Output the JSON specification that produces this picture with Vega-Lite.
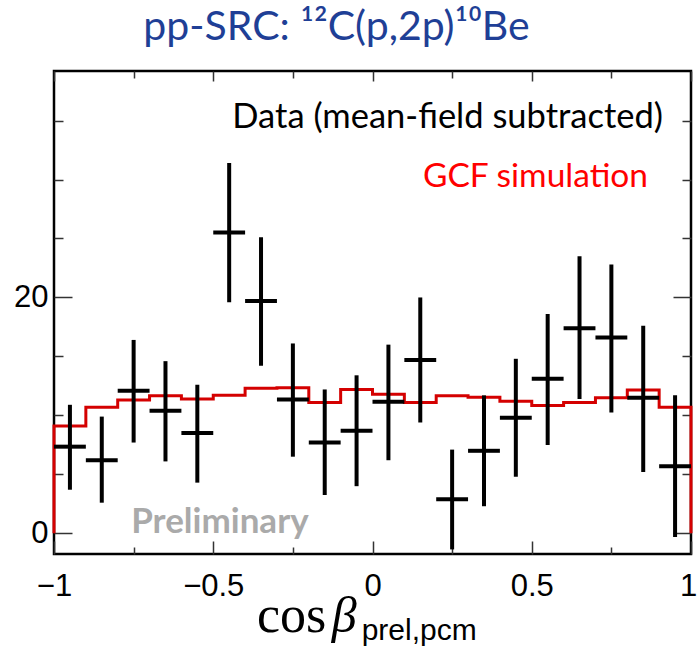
{
  "$schema": "https://vega.github.io/schema/vega-lite/v6.json",
  "width": 637,
  "height": 483,
  "autosize": {"type": "none"},
  "padding": {"left": 54, "top": 71, "right": 6, "bottom": 98},
  "background": "white",
  "config": {
    "view": {"stroke": "black", "strokeWidth": 2.5},
    "axis": {"grid": false, "domain": false, "title": null, "labelFlush": false, "labelOverlap": false, "tickColor": "#333333", "tickWidth": 1.5, "labelFont": "Liberation Sans", "labelFontSize": 31, "labelColor": "black"}
  },
  "title": {
    "text": "pp-SRC: ¹²C(p,2p)¹⁰Be",
    "font": "Lato",
    "fontSize": 41,
    "fontWeight": "normal",
    "color": "#1f3f96",
    "anchor": "middle",
    "dx": -36,
    "offset": -11,
    "baseline": "alphabetic"
  },
  "datasets": {
    "data": [
      {"center": -0.95, "lo_edge": -1.0, "hi_edge": -0.9, "count": 7.35, "low": 3.7, "high": 10.9},
      {"center": -0.85, "lo_edge": -0.9, "hi_edge": -0.8, "count": 6.2, "low": 2.6, "high": 9.9},
      {"center": -0.75, "lo_edge": -0.8, "hi_edge": -0.7, "count": 12.1, "low": 7.7, "high": 16.4},
      {"center": -0.65, "lo_edge": -0.7, "hi_edge": -0.6, "count": 10.4, "low": 6.1, "high": 14.6},
      {"center": -0.55, "lo_edge": -0.6, "hi_edge": -0.5, "count": 8.5, "low": 4.3, "high": 12.6},
      {"center": -0.45, "lo_edge": -0.5, "hi_edge": -0.4, "count": 25.5, "low": 19.6, "high": 31.4},
      {"center": -0.35, "lo_edge": -0.4, "hi_edge": -0.3, "count": 19.7, "low": 14.2, "high": 25.1},
      {"center": -0.25, "lo_edge": -0.3, "hi_edge": -0.2, "count": 11.35, "low": 6.5, "high": 16.1},
      {"center": -0.15, "lo_edge": -0.2, "hi_edge": -0.1, "count": 7.7, "low": 3.25, "high": 12.2},
      {"center": -0.05, "lo_edge": -0.1, "hi_edge": 0.0, "count": 8.7, "low": 4.0, "high": 13.4},
      {"center": 0.05, "lo_edge": 0.0, "hi_edge": 0.1, "count": 11.15, "low": 6.2, "high": 16.0},
      {"center": 0.15, "lo_edge": 0.1, "hi_edge": 0.2, "count": 14.7, "low": 9.4, "high": 20.0},
      {"center": 0.25, "lo_edge": 0.2, "hi_edge": 0.3, "count": 2.9, "low": -1.36, "high": 7.1},
      {"center": 0.35, "lo_edge": 0.3, "hi_edge": 0.4, "count": 7.0, "low": 2.3, "high": 11.7},
      {"center": 0.45, "lo_edge": 0.4, "hi_edge": 0.5, "count": 9.8, "low": 4.8, "high": 14.8},
      {"center": 0.55, "lo_edge": 0.5, "hi_edge": 0.6, "count": 13.1, "low": 7.5, "high": 18.6},
      {"center": 0.65, "lo_edge": 0.6, "hi_edge": 0.7, "count": 17.4, "low": 11.4, "high": 23.5},
      {"center": 0.75, "lo_edge": 0.7, "hi_edge": 0.8, "count": 16.6, "low": 10.25, "high": 22.8},
      {"center": 0.85, "lo_edge": 0.8, "hi_edge": 0.9, "count": 11.5, "low": 5.2, "high": 17.6},
      {"center": 0.95, "lo_edge": 0.9, "hi_edge": 1.0, "count": 5.7, "low": -0.3, "high": 11.7}
    ],
    "gcf": [
      {"i": 0, "edge": -1.0, "value": 0},
      {"i": 1, "edge": -1.0, "value": 9.1},
      {"i": 2, "edge": -0.9, "value": 10.7},
      {"i": 3, "edge": -0.8, "value": 11.3},
      {"i": 4, "edge": -0.7, "value": 11.66},
      {"i": 5, "edge": -0.6, "value": 11.4},
      {"i": 6, "edge": -0.5, "value": 11.7},
      {"i": 7, "edge": -0.4, "value": 12.3},
      {"i": 8, "edge": -0.3, "value": 12.35},
      {"i": 9, "edge": -0.2, "value": 11.1},
      {"i": 10, "edge": -0.1, "value": 12.2},
      {"i": 11, "edge": 0.0, "value": 11.8},
      {"i": 12, "edge": 0.1, "value": 11.1},
      {"i": 13, "edge": 0.2, "value": 11.66},
      {"i": 14, "edge": 0.3, "value": 11.55},
      {"i": 15, "edge": 0.4, "value": 11.2},
      {"i": 16, "edge": 0.5, "value": 10.85},
      {"i": 17, "edge": 0.6, "value": 11.1},
      {"i": 18, "edge": 0.7, "value": 11.5},
      {"i": 19, "edge": 0.8, "value": 12.15},
      {"i": 20, "edge": 0.9, "value": 10.7},
      {"i": 21, "edge": 1.0, "value": 10.7},
      {"i": 22, "edge": 1.0, "value": 0}
    ]
  },
  "resolve": {"axis": {"x": "independent", "y": "independent"}},
  "layer": [
    {
      "data": {"name": "gcf"},
      "mark": {"type": "line", "interpolate": "step-after", "color": "#d40000", "strokeWidth": 3},
      "encoding": {
        "x": {"field": "edge", "type": "quantitative", "scale": {"domain": [-1, 1], "nice": false, "zero": false},
          "axis": {"orient": "bottom", "values": [-1, -0.75, -0.5, -0.25, 0, 0.25, 0.5, 0.75, 1], "format": "~g",
            "labelExpr": "abs(datum.value*2 - round(datum.value*2)) < 0.000001 ? replace(datum.label, '-', '−') : ''",
            "tickSize": {"condition": {"test": "abs(datum.value*2 - round(datum.value*2)) < 0.000001", "value": -13}, "value": -7},
            "labelOffset": {"condition": {"test": "datum.value > 0.99", "value": -3}, "value": 0},
            "labelPadding": 30, "labelBaseline": "top"}},
        "y": {"field": "value", "type": "quantitative", "scale": {"domain": [-1.75, 39.2], "nice": false, "zero": false},
          "axis": {"orient": "left", "values": [0, 5, 10, 15, 20, 25, 30, 35], "format": "~g",
            "labelExpr": "datum.value % 20 === 0 ? datum.label : ''",
            "tickSize": {"condition": {"test": "datum.value % 20 === 0", "value": -18}, "value": -9},
            "labelPadding": 24}},
        "order": {"field": "i", "type": "quantitative"}
      }
    },
    {
      "data": {"name": "data"},
      "mark": {"type": "rule", "color": "black", "strokeWidth": 4},
      "encoding": {
        "x": {"field": "center", "type": "quantitative", "scale": {"domain": [-1, 1], "nice": false, "zero": false},
          "axis": {"orient": "top", "values": [-1, -0.75, -0.5, -0.25, 0, 0.25, 0.5, 0.75, 1], "labels": false,
            "tickSize": {"condition": {"test": "abs(datum.value*2 - round(datum.value*2)) < 0.000001", "value": -10}, "value": -7}}},
        "y": {"field": "low", "type": "quantitative", "scale": {"domain": [-1.75, 39.2], "nice": false, "zero": false},
          "axis": {"orient": "right", "values": [0, 5, 10, 15, 20, 25, 30, 35], "labels": false,
            "tickSize": {"condition": {"test": "datum.value % 20 === 0", "value": -18}, "value": -9}}},
        "y2": {"field": "high"}
      }
    },
    {
      "data": {"name": "data"},
      "mark": {"type": "rule", "color": "black", "strokeWidth": 4},
      "encoding": {
        "x": {"field": "lo_edge", "type": "quantitative", "axis": null},
        "x2": {"field": "hi_edge"},
        "y": {"field": "count", "type": "quantitative", "axis": null}
      }
    },
    {
      "data": {"values": [{}]},
      "mark": {"type": "text", "font": "Lato", "fontSize": 34.5, "align": "right", "baseline": "alphabetic", "color": "black"},
      "encoding": {
        "x": {"datum": 0.912, "type": "quantitative", "axis": null},
        "y": {"datum": 34.4, "type": "quantitative", "axis": null},
        "text": {"value": "Data (mean-field subtracted)"}
      }
    },
    {
      "data": {"values": [{}]},
      "mark": {"type": "text", "font": "Lato", "fontSize": 33.5, "align": "right", "baseline": "alphabetic", "color": "#ff0000"},
      "encoding": {
        "x": {"datum": 0.865, "type": "quantitative", "axis": null},
        "y": {"datum": 29.4, "type": "quantitative", "axis": null},
        "text": {"value": "GCF simulation"}
      }
    },
    {
      "data": {"values": [{}]},
      "mark": {"type": "text", "font": "Lato", "fontSize": 35, "fontWeight": "bold", "align": "center", "baseline": "alphabetic", "color": "#aaaaaa"},
      "encoding": {
        "x": {"datum": -0.479, "type": "quantitative", "axis": null},
        "y": {"datum": 0, "type": "quantitative", "axis": null},
        "text": {"value": "Preliminary"}
      }
    },
    {
      "data": {"values": [{}]},
      "mark": {"type": "text", "font": "Liberation Serif", "fontSize": 52, "align": "left", "baseline": "alphabetic", "color": "black"},
      "encoding": {
        "x": {"datum": -0.3625, "type": "quantitative", "axis": null},
        "y": {"datum": -8.36, "type": "quantitative", "axis": null},
        "text": {"value": "cos"}
      }
    },
    {
      "data": {"values": [{}]},
      "mark": {"type": "text", "font": "Liberation Serif", "fontSize": 50, "fontStyle": "italic", "align": "left", "baseline": "alphabetic", "color": "black"},
      "encoding": {
        "x": {"datum": -0.128, "type": "quantitative", "axis": null},
        "y": {"datum": -8.36, "type": "quantitative", "axis": null},
        "text": {"value": "β"}
      }
    },
    {
      "data": {"values": [{}]},
      "mark": {"type": "text", "font": "Liberation Sans", "fontSize": 30, "align": "left", "baseline": "alphabetic", "color": "black"},
      "encoding": {
        "x": {"datum": -0.034, "type": "quantitative", "axis": null},
        "y": {"datum": -9.0, "type": "quantitative", "axis": null},
        "text": {"value": "prel,pcm"}
      }
    }
  ]
}
